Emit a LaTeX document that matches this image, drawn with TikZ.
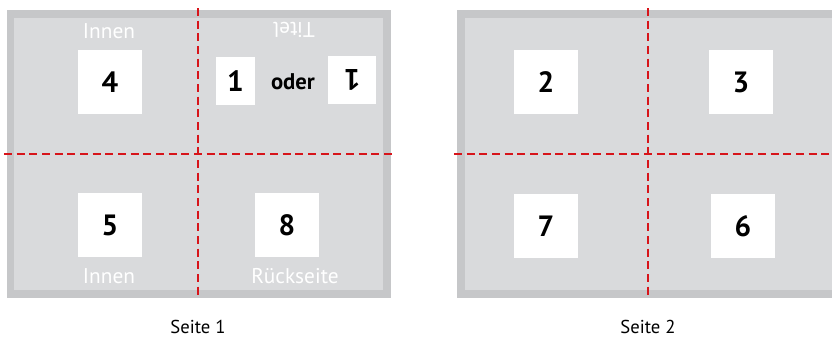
\documentclass[tikz,border=0pt]{standalone}
\usepackage{fontspec}
\setmainfont{PT Sans}
\definecolor{rim}{HTML}{C6C7C9}
\definecolor{sheet}{HTML}{D9DADC}
\definecolor{cut}{HTML}{D7141A}
\tikzset{
  side/.style={white, font=\fontsize{16}{16}\selectfont},
  num/.style={fill=white, minimum width=48pt, minimum height=48pt, inner sep=0pt,
    font=\fontsize{22}{22}\selectfont\bfseries},
  fold/.style={cut, line width=1.5pt, dash pattern=on 6pt off 3.5pt},
  caption/.style={font=\fontsize{14}{14}\selectfont}
}
\begin{document}
\begin{tikzpicture}[x=0.75pt,y=-0.75pt]
  \useasboundingbox (0,0) rectangle (832,343);
  \fill[rim] (6.7,10) rectangle (391,298);
  \fill[sheet] (14.3,18) rectangle (383.3,290);
  \fill[rim] (456.7,10) rectangle (832,298);
  \fill[sheet] (465,18) rectangle (832,290);
  \draw
    (110,82) node[num] (4){4}
    (110,225) node[num] (5){5}
    (287,225) node[num] (8){8}
    (235.5,81) node[num, minimum width=29pt, minimum height=36pt] (1){1}
    (352,80) node[num, minimum width=36pt, minimum height=36pt, rotate=180] (1r){1}
    (293,82) node[font=\fontsize{17}{17}\selectfont\bfseries] (oder){oder}
    (546,82) node[num] (2){2}
    (741,82) node[num] (3){3}
    (546,226) node[num] (7){7}
    (743,226) node[num] (6){6};
  \begin{scope}[side]
    \node (innen1) at (109,31) {Innen};
    \node (innen2) at (109,276) {Innen};
    \node (back) at (295,276) {Rückseite};
    \node[rotate=180] (title) at (294,30) {Titel};
  \end{scope}
  \node[caption] (s1) at (198,327) {Seite 1};
  \node[caption] (s2) at (648,327) {Seite 2};
  \begin{scope}[fold]
    \draw (198,8) -- (198,299);
    \draw (4,154) -- (393,154);
    \draw (648,8) -- (648,299);
    \draw (454,154) -- (832,154);
  \end{scope}
\end{tikzpicture}
\end{document}
